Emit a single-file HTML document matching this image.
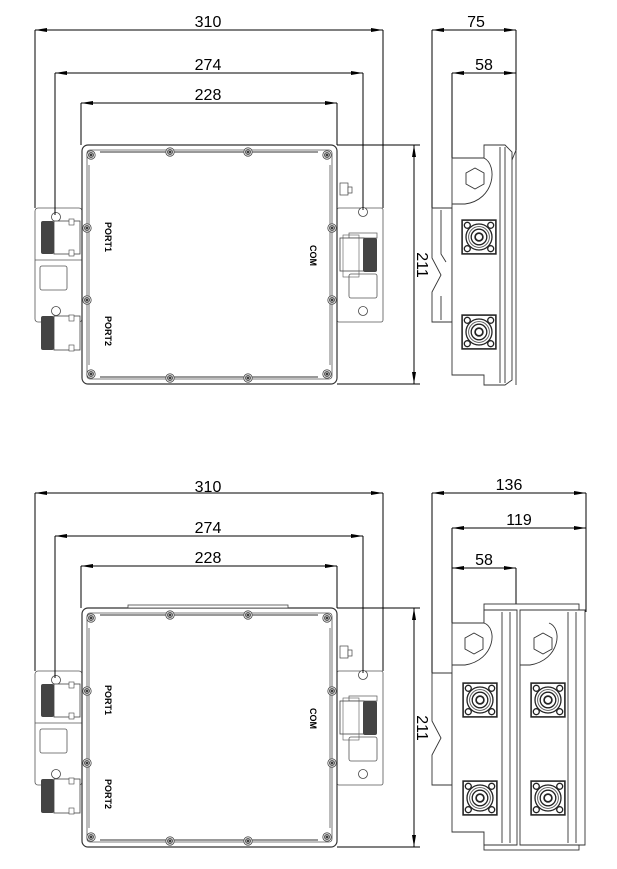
<!DOCTYPE html>
<html><head><meta charset="utf-8"><style>
html,body{margin:0;padding:0;background:#fff;}
svg{display:block;}
text{font-family:"Liberation Sans",sans-serif;fill:#000;}
</style></head><body>
<svg width="617" height="869" viewBox="0 0 617 869" xmlns="http://www.w3.org/2000/svg">
<defs>
<marker id="a" viewBox="0 0 12 4" refX="12" refY="2" markerWidth="12" markerHeight="4" orient="auto-start-reverse" markerUnits="userSpaceOnUse"><path d="M0,0 L12,2 L0,4 Z" fill="#000"/></marker>
<g id="screw"><circle r="4.2" fill="#fff" stroke="#444" stroke-width="0.8"/><circle r="2.6" fill="#999" stroke="#222" stroke-width="0.6"/><circle r="1" fill="#222"/></g>
<g id="conn" transform="scale(1.3)">
<rect x="-13" y="-13" width="26" height="26" fill="#fff" stroke="#222" stroke-width="1.2"/>
<circle cx="-9" cy="-9" r="2.3" fill="none" stroke="#222"/><circle cx="9" cy="-9" r="2.3" fill="none" stroke="#222"/>
<circle cx="-9" cy="9" r="2.3" fill="none" stroke="#222"/><circle cx="9" cy="9" r="2.3" fill="none" stroke="#222"/>
<circle r="10" fill="none" stroke="#222"/><circle r="8" fill="none" stroke="#555" stroke-width="0.7"/><circle r="6" fill="none" stroke="#222"/><circle r="3" fill="none" stroke="#222" stroke-width="1.3"/>
</g>
<g id="front">
<rect x="35" y="208" width="47" height="114" rx="3" fill="#fff" stroke="#555" stroke-width="0.8"/>
<line x1="35" y1="260" x2="82" y2="260" stroke="#555" stroke-width="0.7"/>
<rect x="40" y="266" width="27" height="24" rx="2" fill="#fff" stroke="#555" stroke-width="0.8"/>
<circle cx="56" cy="217" r="4.5" fill="#fff" stroke="#444" stroke-width="0.8"/>
<circle cx="56" cy="311" r="4.5" fill="#fff" stroke="#444" stroke-width="0.8"/>
<rect x="54" y="221" width="26" height="33" fill="#fff" stroke="#444" stroke-width="0.8"/>
<rect x="54" y="316" width="26" height="34" fill="#fff" stroke="#444" stroke-width="0.8"/>
<rect x="69" y="219" width="5" height="6" fill="#fff" stroke="#444" stroke-width="0.6"/>
<rect x="69" y="250" width="5" height="6" fill="#fff" stroke="#444" stroke-width="0.6"/>
<rect x="69" y="315" width="5" height="6" fill="#fff" stroke="#444" stroke-width="0.6"/>
<rect x="69" y="345" width="5" height="6" fill="#fff" stroke="#444" stroke-width="0.6"/>
<rect x="41" y="221" width="13" height="33" rx="2" fill="#444"/>
<rect x="41" y="316" width="13" height="34" rx="2" fill="#444"/>
<rect x="337" y="208" width="46" height="114" rx="2" fill="#fff" stroke="#555" stroke-width="0.8"/>
<circle cx="363" cy="212" r="4.5" fill="#fff" stroke="#444" stroke-width="0.8"/>
<circle cx="363" cy="311" r="4.5" fill="#fff" stroke="#444" stroke-width="0.8"/>
<rect x="349" y="233" width="28" height="5" fill="#fff" stroke="#555" stroke-width="0.7"/>
<rect x="349" y="274" width="28" height="24" rx="2" fill="#fff" stroke="#555" stroke-width="0.8"/>
<rect x="340" y="238" width="24" height="33" fill="#fff" stroke="#444" stroke-width="0.8"/>
<rect x="363" y="238" width="14" height="34" rx="2" fill="#444"/>
<rect x="343" y="235" width="16" height="42" fill="none" stroke="#555" stroke-width="0.6"/>
<rect x="340" y="183" width="8" height="12" fill="#fff" stroke="#444" stroke-width="0.7"/>
<rect x="348" y="187" width="4" height="6" fill="#fff" stroke="#444" stroke-width="0.7"/>
<rect x="82" y="145" width="255" height="239" rx="6" fill="#fff" stroke="#333" stroke-width="1.2"/>
<rect x="87" y="150" width="245" height="229" rx="3" fill="none" stroke="#555" stroke-width="0.8"/>
<line x1="100" y1="152" x2="318" y2="152" stroke="#333" stroke-width="1"/>
<line x1="100" y1="377" x2="318" y2="377" stroke="#333" stroke-width="1"/>
<line x1="89" y1="165" x2="89" y2="365" stroke="#555" stroke-width="0.8"/>
<line x1="330" y1="165" x2="330" y2="365" stroke="#555" stroke-width="0.8"/>
<use href="#screw" x="91" y="155"/><use href="#screw" x="327" y="155"/>
<use href="#screw" x="91" y="374"/><use href="#screw" x="327" y="374"/>
<use href="#screw" x="170" y="152"/><use href="#screw" x="248" y="152"/>
<use href="#screw" x="170" y="378"/><use href="#screw" x="248" y="378"/>
<use href="#screw" x="87" y="228"/><use href="#screw" x="87" y="300"/>
<use href="#screw" x="332" y="228"/><use href="#screw" x="332" y="300"/>
<text transform="translate(105,222) rotate(90)" font-size="9" font-weight="bold">PORT1</text>
<text transform="translate(105,316) rotate(90)" font-size="9" font-weight="bold">PORT2</text>
<text transform="translate(310,245) rotate(90)" font-size="9" font-weight="bold">COM</text>
</g>
<g id="dims" stroke="#000" stroke-width="1" fill="none">
<line x1="35" y1="30" x2="35" y2="208"/><line x1="383" y1="30" x2="383" y2="208"/>
<line x1="55" y1="73" x2="55" y2="215"/><line x1="363" y1="73" x2="363" y2="210"/>
<line x1="81" y1="103" x2="81" y2="145"/><line x1="337" y1="103" x2="337" y2="145"/>
<line x1="35" y1="30" x2="383" y2="30" marker-start="url(#a)" marker-end="url(#a)"/>
<line x1="55" y1="73" x2="363" y2="73" marker-start="url(#a)" marker-end="url(#a)"/>
<line x1="81" y1="103" x2="337" y2="103" marker-start="url(#a)" marker-end="url(#a)"/>
<line x1="337" y1="145" x2="420" y2="145"/><line x1="337" y1="384" x2="420" y2="384"/>
<line x1="414" y1="145" x2="414" y2="384" marker-start="url(#a)" marker-end="url(#a)"/>
</g>
</defs>

<use href="#front"/>
<use href="#dims"/>
<text x="208" y="27" font-size="16" text-anchor="middle">310</text>
<text x="208" y="70" font-size="16" text-anchor="middle">274</text>
<text x="208" y="100" font-size="16" text-anchor="middle">228</text>
<text transform="translate(417,265) rotate(90)" font-size="16" text-anchor="middle">211</text>

<g stroke="#000" stroke-width="1" fill="none">
<line x1="432" y1="30" x2="432" y2="208"/><line x1="516" y1="30" x2="516" y2="150"/>
<line x1="452" y1="73" x2="452" y2="158"/>
<line x1="432" y1="30" x2="516" y2="30" marker-start="url(#a)" marker-end="url(#a)"/>
<line x1="452" y1="73" x2="516" y2="73" marker-start="url(#a)" marker-end="url(#a)"/>
</g>
<g stroke="#333" stroke-width="0.9" fill="#fff">
<path d="M432,208 H452 V322 H432 V292 L441,275 L432,258 Z"/>
<path d="M441,210 V254 L446,262 M441,320 V296"/>
<path d="M452,158 H484 V145 H505 L512,152 V380 L505,385 H484 V375 H452 Z"/>
<line x1="500" y1="147" x2="500" y2="383"/>
<line x1="505" y1="147" x2="505" y2="383"/>
<path d="M452,204 H465 C495,200 498,165 484,158" fill="none"/>
<polygon points="475,168 484,173 484,184 475,189 466,184 466,173"/>
<line x1="512" y1="160" x2="516" y2="150"/><line x1="516" y1="150" x2="516" y2="385"/>
</g>
<use href="#conn" x="479" y="237"/><use href="#conn" x="479" y="332"/>

<g transform="translate(0,463)">
<use href="#front"/>
<rect x="128" y="142" width="160" height="3" fill="#fff" stroke="#444" stroke-width="0.8"/>
<use href="#dims"/>
<text transform="translate(417,265) rotate(90)" font-size="16" text-anchor="middle">211</text>
</g>
<text x="208" y="492" font-size="16" text-anchor="middle">310</text>
<text x="208" y="533" font-size="16" text-anchor="middle">274</text>
<text x="208" y="563" font-size="16" text-anchor="middle">228</text>

<g stroke="#000" stroke-width="1" fill="none">
<line x1="432" y1="493" x2="432" y2="673"/><line x1="586" y1="493" x2="586" y2="612"/>
<line x1="452" y1="528" x2="452" y2="623"/><line x1="516" y1="568" x2="516" y2="612"/>
<line x1="432" y1="493" x2="586" y2="493" marker-start="url(#a)" marker-end="url(#a)"/>
<line x1="452" y1="528" x2="586" y2="528" marker-start="url(#a)" marker-end="url(#a)"/>
<line x1="452" y1="568" x2="516" y2="568" marker-start="url(#a)" marker-end="url(#a)"/>
</g>
<text x="509" y="490" font-size="16" text-anchor="middle">136</text>
<text x="519" y="525" font-size="16" text-anchor="middle">119</text>
<text x="484" y="565" font-size="16" text-anchor="middle">58</text>
<g stroke="#333" stroke-width="0.9" fill="#fff">
<rect x="484" y="604" width="95" height="246" fill="#fff"/>
<path d="M432,673 H452 V785 H432 V755 L441,738 L432,721 Z"/>
<path d="M452,623 H484 V610 H517 V845 H484 V832 H452 Z"/>
<path d="M520,623 V610 H585 V845 H520 Z"/>
<line x1="502" y1="612" x2="502" y2="843"/><line x1="510" y1="612" x2="510" y2="843"/>
<line x1="568" y1="612" x2="568" y2="843"/><line x1="576" y1="612" x2="576" y2="843"/>
<path d="M452,665 H465 C495,660 498,628 484,623" fill="none"/>
<path d="M520,665 H530 C560,660 563,628 549,623" fill="none"/>
<polygon points="474,633 483,638 483,649 474,654 465,649 465,638"/>
<polygon points="543,633 552,638 552,649 543,654 534,649 534,638"/>
</g>
<use href="#conn" x="480" y="700"/><use href="#conn" x="480" y="798"/>
<use href="#conn" x="548" y="700"/><use href="#conn" x="548" y="798"/>
<text x="476" y="27" font-size="16" text-anchor="middle">75</text>
<text x="484" y="70" font-size="16" text-anchor="middle">58</text>
</svg>
</body></html>
